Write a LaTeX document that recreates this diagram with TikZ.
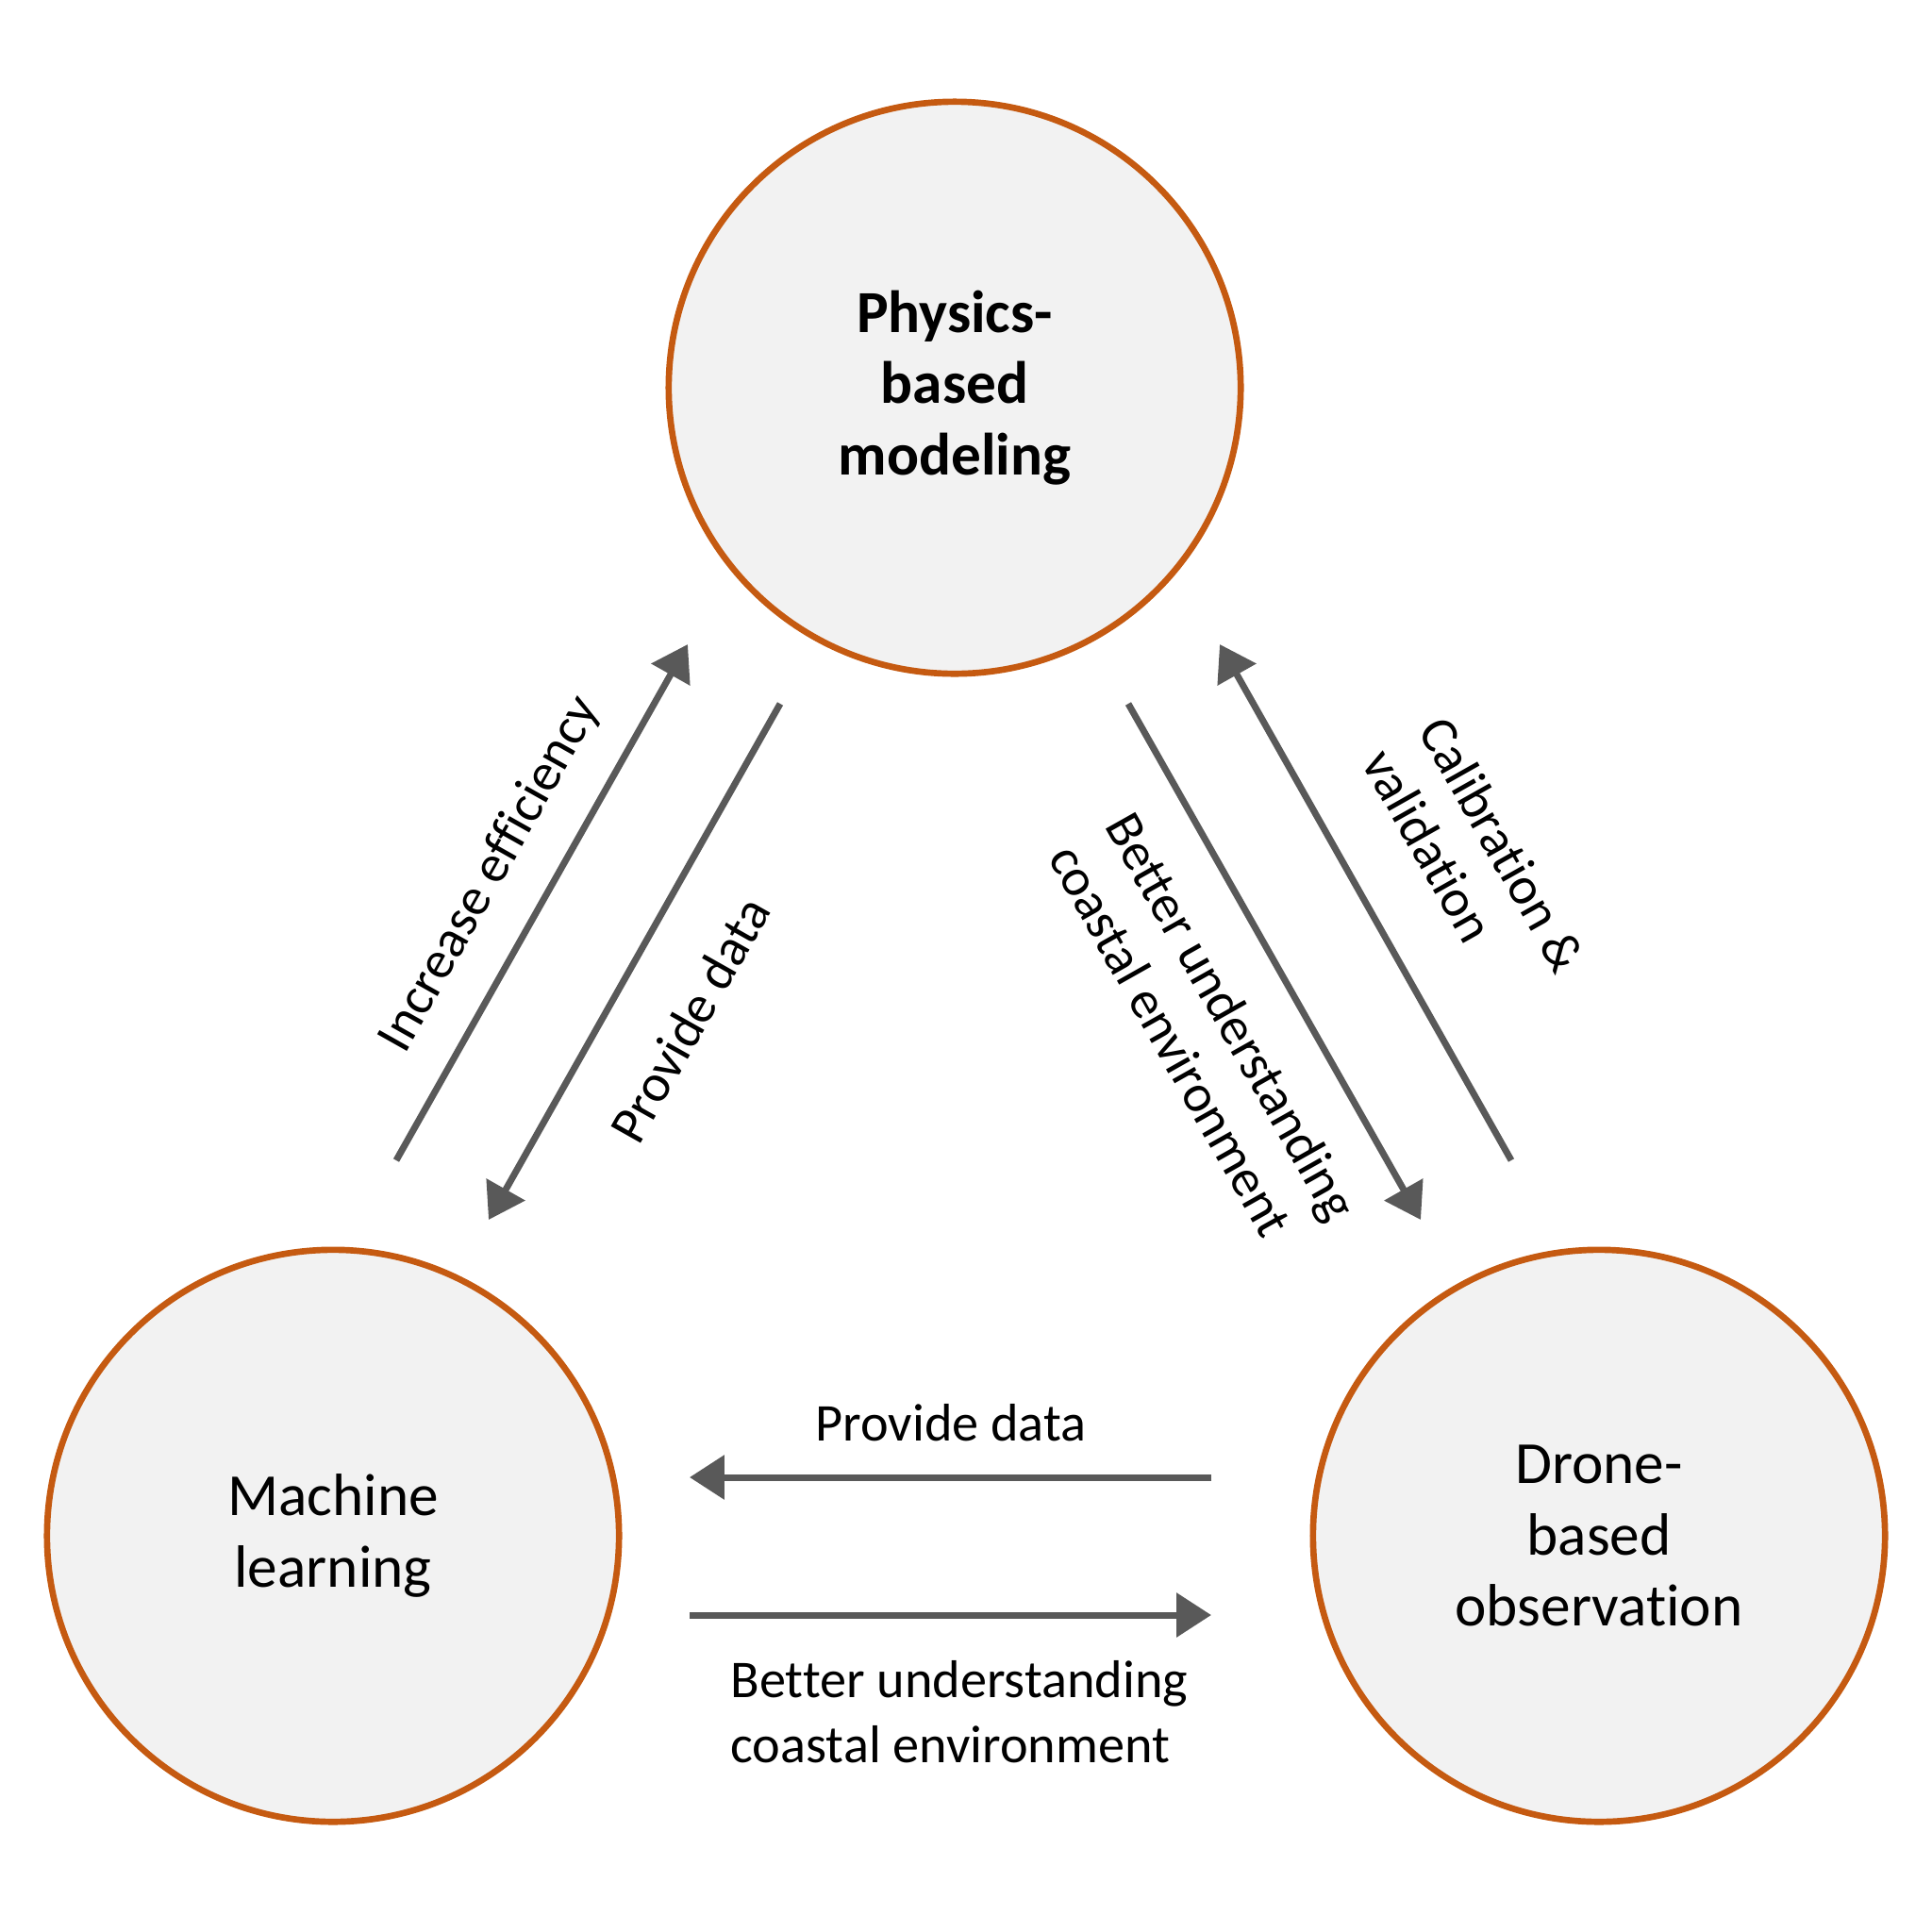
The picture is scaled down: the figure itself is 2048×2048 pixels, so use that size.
\documentclass[tikz,border=0pt]{standalone}
\usepackage{fontspec}
\setmainfont{Carlito}[Ligatures={NoCommon}, RawFeature={-calt;-clig;-dlig}]
\usepackage{tikz}
\usetikzlibrary{positioning, arrows.meta}

\definecolor{ringc}{HTML}{C55A11}
\definecolor{fillc}{HTML}{F2F2F2}
\definecolor{arrc}{HTML}{595959}

\begin{document}
\begin{tikzpicture}[
  x=0.01cm, y=-0.01cm,
  blob/.style={circle, draw=ringc, line width=1.9pt, fill=fillc, minimum size=6.06cm, align=center, inner sep=0pt,
    font=\fontsize{18}{21.5}\selectfont},
  a/.style={-{Triangle[length=10.5pt, width=13pt]}, arrc, line width=2pt},
  lbl/.style={align=left, inner sep=0pt, font=\fontsize{16}{19.6}\selectfont}
]
\useasboundingbox (0,0) rectangle (2048,2048);
\node[blob] (pbm) at (1012,411) {\textbf{Physics-}\\\textbf{based}\\\textbf{modeling}};
\node[blob] (ml) at (353,1628) {Machine\\learning};
\node[blob] (dbo) at (1695,1628) {Drone-\\based\\observation};
% arrow ends
\coordinate (ie1) at (420,1230);  \coordinate (ie2) at (729,683);
\coordinate (pd1) at (827,746);   \coordinate (pd2) at (518,1293);
\coordinate (bu1) at (1196,746);  \coordinate (bu2) at (1506,1293);
\coordinate (cv1) at (1602,1230); \coordinate (cv2) at (1293,683);
\coordinate (hp1) at (1284,1566); \coordinate (hp2) at (731,1566);
\coordinate (hb1) at (731,1712);  \coordinate (hb2) at (1284,1712);
\draw[a] (ie1) -- (ie2);
\draw[a] (pd1) -- (pd2);
\draw[a] (bu1) -- (bu2);
\draw[a] (cv1) -- (cv2);
\draw[a] (hp1) -- (hp2);
\draw[a] (hb1) -- (hb2);
% labels
\node[lbl, rotate=60.6] (lie) at (520,927) {Increase efficiency};
\node[lbl, rotate=60.6] (lpd) at (731,1081) {Provide data};
\node[lbl, rotate=-60.6] (lbu) at (1276,1094) {Better understanding\\coastal environment};
\node[lbl, rotate=-60.6] (lcv) at (1563,912) {Calibration \&\\validation};
\node[lbl] (lhp) at (1008,1508) {Provide data};
\node[lbl] (lhb) at (1017,1815) {Better understanding\\coastal environment};
\end{tikzpicture}
\end{document}
